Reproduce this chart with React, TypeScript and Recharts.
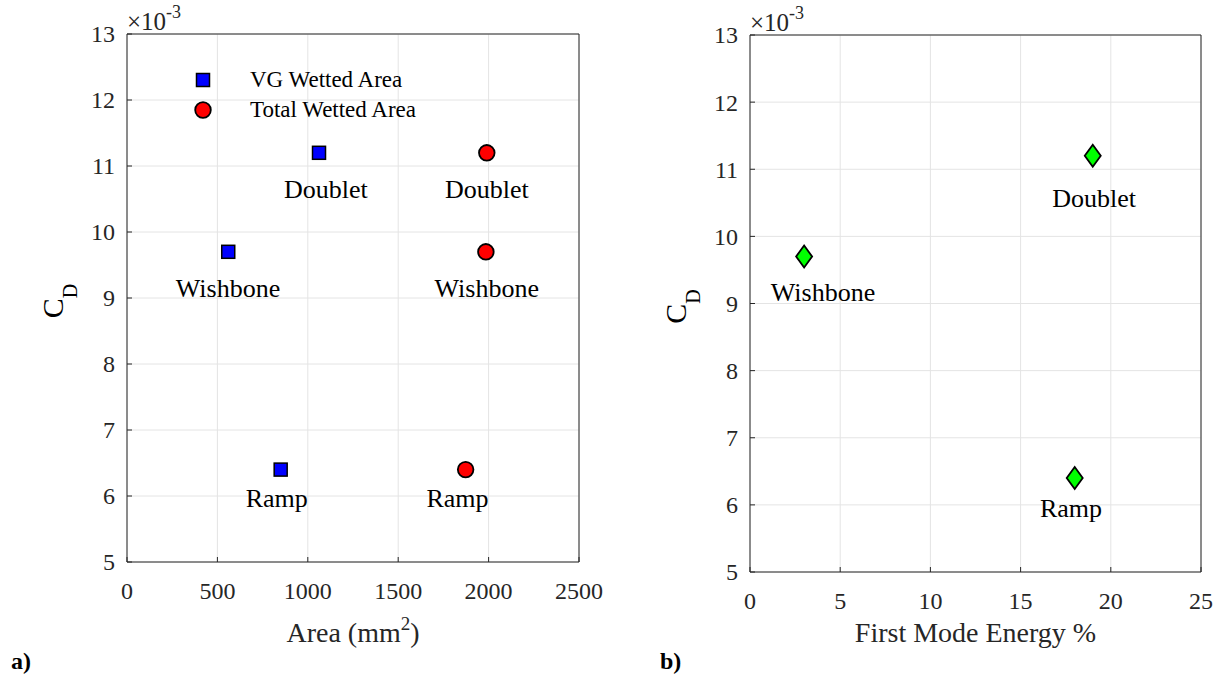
import { ScatterChart, Scatter, XAxis, YAxis, CartesianGrid, Legend } from "recharts";

const FONT = "'Liberation Serif', 'Times New Roman', serif";
const AXIS = "#262626";
const GRID = "#e4e4e4";

const areaTicks = [0, 500, 1000, 1500, 2000, 2500];
const energyTicks = [0, 5, 10, 15, 20, 25];
const cdTicks = [5, 6, 7, 8, 9, 10, 11, 12, 13];

// panel a) -- CD vs area
const vgNames = ["Doublet", "Wishbone", "Ramp"];
const vgArea = [1062, 560, 850];
const vgCd = [11.2, 9.7, 6.4];
const totalNames = ["Doublet", "Wishbone", "Ramp"];
const totalArea = [1990, 1985, 1873];
const totalCd = [11.2, 9.7, 6.4];
// where the text annotations sit, in data units
const vgLabelArea = [1100, 559, 828];
const vgLabelCd = [10.66, 9.15, 5.97];
const totalLabelArea = [1991, 1990, 1828];
const totalLabelCd = [10.66, 9.16, 5.97];
const legendOrder = ["VG Wetted Area", "Total Wetted Area"];

// panel b) -- CD vs first mode energy
const modeNames = ["Wishbone", "Doublet", "Ramp"];
const modeEnergy = [3, 19, 18];
const modeCd = [9.7, 11.2, 6.4];
const modeLabelEnergy = [4.05, 19.07, 17.79];
const modeLabelCd = [9.17, 10.57, 5.95];

const zip = (names: string[], xs: number[], ys: number[]) =>
  names.map((name, i) => ({ name, x: xs[i], y: ys[i] }));

const vgData = zip(vgNames, vgArea, vgCd);
const totalData = zip(totalNames, totalArea, totalCd);
const vgLabels = zip(vgNames, vgLabelArea, vgLabelCd);
const totalLabels = zip(totalNames, totalLabelArea, totalLabelCd);
const modeData = zip(modeNames, modeEnergy, modeCd);
const modeLabels = zip(modeNames, modeLabelEnergy, modeLabelCd);

function BottomTick(props: any) {
  const { x, y, payload } = props;
  return (
    <g>
      <line x1={x} x2={x} y1={y} y2={y - 5} stroke={AXIS} />
      <text x={x} y={y + 37} textAnchor="middle" fontSize={24} fontFamily={FONT} fill={AXIS}>
        {payload.value}
      </text>
    </g>
  );
}

function TopTick(props: any) {
  const { x, y } = props;
  return <line x1={x} x2={x} y1={y} y2={y + 5} stroke={AXIS} />;
}

function LeftTick(props: any) {
  const { x, y, payload } = props;
  return (
    <g>
      <line x1={x} x2={x + 5} y1={y} y2={y} stroke={AXIS} />
      <text x={x - 12} y={y} dy="0.35em" textAnchor="end" fontSize={24} fontFamily={FONT} fill={AXIS}>
        {payload.value}
      </text>
    </g>
  );
}

function RightTick(props: any) {
  const { x, y } = props;
  return <line x1={x} x2={x - 5} y1={y} y2={y} stroke={AXIS} />;
}

function YTitle(props: any) {
  const { x, y, width, height } = props.viewBox;
  const left = x + width;
  const cx = left - 64;
  const cy = y + height / 2 + 3;
  return (
    <g fontFamily={FONT}>
      <text x={cx} y={cy} transform={`rotate(-90 ${cx} ${cy})`} textAnchor="middle" fontSize={30} fill="#000">
        C<tspan fontSize={20} dy={14}>D</tspan>
      </text>
      <text x={left} y={y - 4} fontSize={25} fill={AXIS}>
        ×10<tspan fontSize={18} dy={-12}>-3</tspan>
      </text>
    </g>
  );
}

const areaTitle = (props: any) => {
  const { x, y, width } = props.viewBox;
  return (
    <text x={x + width / 2} y={y + 80} textAnchor="middle" fontSize={28} fontFamily={FONT} fill={AXIS}>
      Area (mm<tspan fontSize={19} dy={-12}>2</tspan>
      <tspan dy={12}>)</tspan>
    </text>
  );
};

const energyTitle = (props: any) => {
  const { x, y, width } = props.viewBox;
  return (
    <text x={x + width / 2} y={y + 70} textAnchor="middle" fontSize={28} fontFamily={FONT} fill={AXIS}>
      First Mode Energy %
    </text>
  );
};

function SquareMark(props: any) {
  const { cx, cy } = props;
  return <rect x={cx - 6.5} y={cy - 6.5} width={13} height={13} fill="#0000ff" stroke="#000" strokeWidth={1.5} />;
}

function CircleMark(props: any) {
  const { cx, cy } = props;
  return <circle cx={cx} cy={cy} r={7.8} fill="#ff0000" stroke="#000" strokeWidth={1.8} />;
}

function DiamondMark(props: any) {
  const { cx, cy } = props;
  return (
    <polygon
      points={`${cx},${cy - 11} ${cx + 8},${cy} ${cx},${cy + 11} ${cx - 8},${cy}`}
      fill="#00ff00"
      stroke="#000"
      strokeWidth={1.8}
    />
  );
}

function NameText(props: any) {
  const { cx, cy, payload } = props;
  return (
    <text x={cx} y={cy} dy="0.35em" textAnchor="middle" fontSize={26} fontFamily={FONT} fill="#000">
      {payload.name}
    </text>
  );
}

function legendContent(props: any) {
  const items = (props.payload || [])
    .filter((p: any) => legendOrder.includes(p.value))
    .sort((a: any, b: any) => legendOrder.indexOf(a.value) - legendOrder.indexOf(b.value));
  return (
    <div style={{ fontFamily: FONT, fontSize: 23, color: "#000" }}>
      {items.map((p: any) => (
        <div key={p.value} style={{ display: "flex", alignItems: "center", height: 30 }}>
          <svg width={20} height={20}>
            {p.value === legendOrder[0] ? (
              <rect x={3.5} y={3.5} width={13} height={13} fill="#0000ff" stroke="#000" strokeWidth={1.5} />
            ) : (
              <circle cx={10} cy={10} r={7.8} fill="#ff0000" stroke="#000" strokeWidth={1.8} />
            )}
          </svg>
          <span style={{ marginLeft: 37, whiteSpace: "nowrap" }}>{p.value}</span>
        </div>
      ))}
    </div>
  );
}

const axisCommon = { tickSize: 0, tickMargin: 0, tickLine: false, interval: 0 as const, axisLine: { stroke: AXIS } };

function AreaChartPanel() {
  return (
    <ScatterChart width={610} height={678} margin={{ top: 33, right: 30, bottom: 115, left: 126 }}>
      <CartesianGrid stroke={GRID} />
      <XAxis type="number" dataKey="x" domain={[0, 2500]} ticks={areaTicks} height={1} {...axisCommon} tick={BottomTick} label={areaTitle} />
      <XAxis xAxisId="top" orientation="top" type="number" domain={[0, 2500]} ticks={areaTicks} height={1} {...axisCommon} tick={TopTick} />
      <YAxis type="number" dataKey="y" domain={[5, 13]} ticks={cdTicks} width={1} {...axisCommon} tick={LeftTick} label={YTitle} />
      <YAxis yAxisId="right" orientation="right" type="number" domain={[5, 13]} ticks={cdTicks} width={1} {...axisCommon} tick={RightTick} />
      <Legend
        layout="vertical" align="center" verticalAlign="middle"
        wrapperStyle={{ top: 65, left: 193, width: 280 }}
        content={legendContent}
      />
      <Scatter name="VG Wetted Area" data={vgData} legendType="square" fill="#0000ff" shape={SquareMark} isAnimationActive={false} />
      <Scatter name="Total Wetted Area" data={totalData} legendType="circle" fill="#ff0000" shape={CircleMark} isAnimationActive={false} />
      <Scatter name="vgLabels" data={vgLabels} legendType="none" shape={NameText} isAnimationActive={false} />
      <Scatter name="totalLabels" data={totalLabels} legendType="none" shape={NameText} isAnimationActive={false} />
    </ScatterChart>
  );
}

function EnergyChartPanel() {
  return (
    <ScatterChart width={611} height={678} margin={{ top: 34, right: 19, bottom: 105, left: 139 }}>
      <CartesianGrid stroke={GRID} />
      <XAxis type="number" dataKey="x" domain={[0, 25]} ticks={energyTicks} height={1} {...axisCommon} tick={BottomTick} label={energyTitle} />
      <XAxis xAxisId="top" orientation="top" type="number" domain={[0, 25]} ticks={energyTicks} height={1} {...axisCommon} tick={TopTick} />
      <YAxis type="number" dataKey="y" domain={[5, 13]} ticks={cdTicks} width={1} {...axisCommon} tick={LeftTick} label={YTitle} />
      <YAxis yAxisId="right" orientation="right" type="number" domain={[5, 13]} ticks={cdTicks} width={1} {...axisCommon} tick={RightTick} />
      <Scatter name="First Mode" data={modeData} legendType="diamond" shape={DiamondMark} isAnimationActive={false} />
      <Scatter name="modeLabels" data={modeLabels} legendType="none" shape={NameText} isAnimationActive={false} />
    </ScatterChart>
  );
}

export default function App() {
  return (
    <div style={{ position: "absolute", left: 0, top: 0, width: 1221, height: 678, background: "#fff", fontFamily: FONT }}>
      <div style={{ position: "absolute", left: 0, top: 0 }}>
        <AreaChartPanel />
      </div>
      <div style={{ position: "absolute", left: 610, top: 0 }}>
        <EnergyChartPanel />
      </div>
      <div style={{ position: "absolute", left: 11, top: 648, fontSize: 24, fontWeight: "bold" }}>a)</div>
      <div style={{ position: "absolute", left: 660, top: 648, fontSize: 24, fontWeight: "bold" }}>b)</div>
    </div>
  );
}
